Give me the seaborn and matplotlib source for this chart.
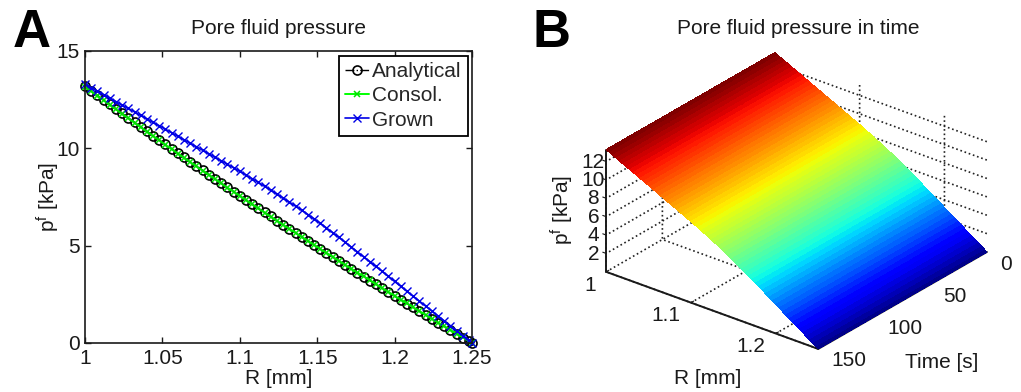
import numpy as np
import pandas as pd
import matplotlib
matplotlib.use("Agg")
import matplotlib.pyplot as plt
import seaborn as sns
from mpl_toolkits.mplot3d import Axes3D  # noqa

radius = [1.000,1.004,1.008,1.012,1.016,1.020,1.024,1.028,1.032,1.036,1.040,1.044,1.048,1.052,1.056,1.060,
          1.064,1.068,1.072,1.076,1.080,1.084,1.088,1.092,1.096,1.100,1.104,1.108,1.112,1.116,1.120,1.124,
          1.128,1.132,1.136,1.140,1.144,1.148,1.152,1.156,1.160,1.164,1.168,1.172,1.176,1.180,1.184,1.188,
          1.192,1.196,1.200,1.204,1.208,1.212,1.216,1.220,1.224,1.228,1.232,1.236,1.240,1.244,1.248,1.250]
analytical = [13.20,12.96,12.73,12.49,12.26,12.03,11.80,11.57,11.34,11.11,10.88,10.65,10.43,10.20,9.98,9.75,
              9.53,9.31,9.09,8.87,8.65,8.43,8.21,7.99,7.78,7.56,7.35,7.13,6.92,6.71,6.50,6.28,
              6.07,5.87,5.66,5.45,5.24,5.04,4.83,4.62,4.42,4.22,4.01,3.81,3.61,3.41,3.21,3.01,
              2.81,2.61,2.41,2.22,2.02,1.83,1.63,1.44,1.24,1.05,0.86,0.67,0.48,0.28,0.09,0.00]
consol = [13.17,12.93,12.70,12.46,12.23,12.00,11.77,11.54,11.31,11.08,10.86,10.63,10.41,10.18,9.96,9.73,
          9.51,9.29,9.07,8.85,8.63,8.42,8.20,7.98,7.77,7.55,7.34,7.12,6.91,6.70,6.49,6.28,
          6.07,5.87,5.66,5.45,5.24,5.04,4.83,4.63,4.43,4.22,4.02,3.82,3.62,3.42,3.22,3.02,
          2.82,2.62,2.42,2.22,2.03,1.83,1.64,1.44,1.25,1.05,0.86,0.67,0.48,0.29,0.09,0.00]
grown = [13.30,13.12,12.94,12.76,12.58,12.40,12.22,12.05,11.87,11.69,11.51,11.33,11.16,10.98,10.80,10.62,
         10.44,10.26,10.08,9.90,9.72,9.54,9.36,9.18,9.00,8.82,8.63,8.44,8.25,8.05,7.85,7.65,
         7.45,7.24,7.03,6.82,6.60,6.38,6.15,5.91,5.67,5.43,5.18,4.93,4.68,4.43,4.18,3.93,
         3.68,3.42,3.16,2.91,2.65,2.40,2.15,1.90,1.65,1.39,1.14,0.89,0.63,0.38,0.13,0.00]
time_s = [0, 50, 100, 150]
x_ticks_a = [1, 1.05, 1.1, 1.15, 1.2, 1.25]
x_labels_a = ["1", "1.05", "1.1", "1.15", "1.2", "1.25"]
y_ticks_a = [0, 5, 10, 15]
r_ticks_b = [1, 1.1, 1.2]
r_labels_b = ["1", "1.1", "1.2"]
t_ticks_b = [0, 50, 100, 150]
z_ticks_b = [2, 4, 6, 8, 10, 12]

W, H = 1021, 392
sns.set_style("white")
plt.rcParams["font.family"] = ["Liberation Sans", "DejaVu Sans"]
plt.rcParams["mathtext.default"] = "regular"
plt.rcParams["mathtext.fontset"] = "custom"
plt.rcParams["mathtext.rm"] = "Liberation Sans"
FS = 15
INK = "#1a1a1a"
fig = plt.figure(figsize=(W/100, H/100), dpi=100)

# ---------- Panel A
ax = fig.add_axes([85/W, 1-343/H, 387/W, 292/H])
df = pd.DataFrame({"R": radius, "Analytical": analytical, "Consol.": consol, "Grown": grown})
sns.lineplot(data=df, x="R", y="Analytical", ax=ax, color="k", linestyle="-.", lw=1, marker="o",
             markersize=6.5, markerfacecolor="none", markeredgecolor="k", markeredgewidth=1.2,
             label="Analytical", errorbar=None, sort=False, clip_on=False)
sns.lineplot(data=df, x="R", y="Consol.", ax=ax, color="#00ff00", lw=1.4, marker="x",
             markersize=5, markeredgecolor="#00e000", markeredgewidth=1.1,
             label="Consol.", errorbar=None, sort=False, clip_on=False)
sns.lineplot(data=df, x="R", y="Grown", ax=ax, color="#0000e6", lw=1.2, marker="x",
             markersize=6, markeredgecolor="#0000e6", markeredgewidth=1,
             label="Grown", errorbar=None, sort=False, clip_on=False)
ax.set_xlim(1, 1.25)
ax.set_ylim(0, 15)
ax.set_xticks(x_ticks_a, x_labels_a)
ax.set_yticks(y_ticks_a)
ax.tick_params(direction="in", top=True, right=True, bottom=True, left=True, length=4, width=1,
               labelsize=FS, colors=INK, pad=4)
for s in ax.spines.values():
    s.set_visible(True); s.set_color(INK); s.set_linewidth(1.2)
ax.set_xlabel("R [mm]", fontsize=FS, labelpad=1, color=INK)
ax.set_ylabel(r"p$^{f}$ [kPa]", fontsize=FS, labelpad=-4, color=INK)
ax.set_title("Pore fluid pressure", fontsize=FS, pad=12, color=INK)
leg = ax.legend(loc="upper right", bbox_to_anchor=(468/W, 1-56/H), bbox_transform=fig.transFigure,
                fontsize=FS, frameon=True, fancybox=False, edgecolor="k", framealpha=1,
                borderaxespad=0, borderpad=0.3, labelspacing=0.25, handlelength=1.15, handletextpad=0.15)
leg.get_frame().set_linewidth(1.3)

# ---------- Panel B
S = 395
cx, cy = 796.5, 201
left = cx - 0.5135*S
bottom_px = cy + 0.5135*S
ax3 = fig.add_axes([left/W, 1-bottom_px/H, S/W, S/H], projection="3d", proj_type="ortho")
ax3.patch.set_alpha(0)
ax3.view_init(elev=27.2, azim=-51.5)
ax3.set_box_aspect((271, 271, 137))
R_grid, T_grid = np.meshgrid(radius, time_s)
P_grid = np.tile(np.array(grown), (len(time_s), 1))
jet = matplotlib.colormaps["jet"]
colors = jet(P_grid / max(grown))
ax3.plot_surface(R_grid, T_grid, P_grid, facecolors=colors, rstride=1, cstride=1, shade=False,
                 linewidth=0, antialiased=False)
ax3.set_xlim(1, 1.25)
ax3.set_ylim(150, 0)
ax3.set_zlim(0, 13.25)
ax3.set_xticks(r_ticks_b, r_labels_b)
ax3.set_yticks(t_ticks_b)
ax3.set_zticks(z_ticks_b)
ax3.zaxis.set_ticks_position("upper")
for a in (ax3.xaxis, ax3.yaxis, ax3.zaxis):
    a.set_pane_color((1, 1, 1, 0))
    a.pane.set_edgecolor((1, 1, 1, 0))
    a.line.set_color(INK)
    a.line.set_linewidth(1.4)
    a._axinfo["grid"].update(color="#222222", linestyle=":", linewidth=1.2)
    a._axinfo["tick"].update(inward_factor=0.0, outward_factor=0.2)
ax3.tick_params(labelsize=FS, colors=INK, pad=1)
ax3.tick_params(axis="z", pad=-3)
plt.setp(ax3.get_xticklabels(), ha="right", va="center")
plt.setp(ax3.get_yticklabels(), ha="left", va="center")
plt.setp(ax3.get_zticklabels(), va="center")
fig.text(708/W, 1-378/H, "R [mm]", fontsize=FS, ha="center", va="center", color=INK)
fig.text(942/W, 1-362/H, "Time [s]", fontsize=FS, ha="center", va="center", color=INK)
fig.text(562/W, 1-210/H, r"p$^{f}$ [kPa]", fontsize=FS, ha="center", va="center", rotation=90, color=INK)
fig.text(798/W, 1-29/H, "Pore fluid pressure in time", fontsize=FS, ha="center", va="center", color=INK)

fig.text(13/W, 1-47/H, "A", fontsize=38, fontweight="bold", color="k", va="baseline")
fig.text(532/W, 1-47/H, "B", fontsize=38, fontweight="bold", color="k", va="baseline")
fig.savefig("out.png", dpi=100)
